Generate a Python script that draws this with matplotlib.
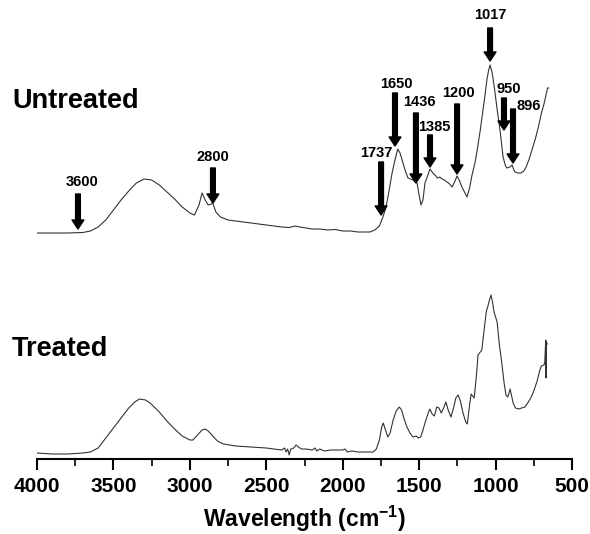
import matplotlib
matplotlib.use("Agg")
import matplotlib.pyplot as plt
from matplotlib.ticker import MultipleLocator

plt.rcParams['font.family'] = ['Liberation Sans', 'DejaVu Sans']
plt.rcParams['mathtext.fontset'] = 'custom'
plt.rcParams['mathtext.bf'] = 'Liberation Sans:bold'

# wavenumber (cm-1) / relative absorbance
untreated_wn = [4000, 3900, 3800, 3700, 3650, 3600, 3550, 3500, 3450, 3400, 3350, 3300,
                3250, 3200, 3150, 3100, 3050, 3000, 2970, 2940, 2920, 2900, 2880, 2860,
                2850, 2830, 2800, 2750, 2700, 2600, 2500, 2400, 2350, 2310, 2280, 2200,
                2150, 2100, 2050, 2000, 1950, 1900, 1850, 1822, 1790, 1760, 1737, 1720,
                1704, 1677, 1658, 1640, 1625, 1606, 1590, 1573, 1540, 1514, 1500, 1488,
                1475, 1462, 1445, 1429, 1410, 1396, 1380, 1365, 1350, 1335, 1318, 1300,
                1285, 1268, 1252, 1235, 1220, 1200, 1187, 1170, 1154, 1135, 1120, 1100,
                1085, 1070, 1055, 1045, 1036, 1025, 1017, 1005, 991, 971, 951, 935, 925,
                906, 892, 880, 873, 853, 835, 815, 800, 780, 760, 740, 720, 700, 685,
                670, 660, 652]
untreated_ab = [0.00, 0.00, 0.00, 0.005, 0.02, 0.06, 0.13, 0.23, 0.33, 0.42, 0.50, 0.54,
                0.53, 0.48, 0.41, 0.34, 0.26, 0.20, 0.18, 0.28, 0.40, 0.33, 0.28, 0.29,
                0.30, 0.21, 0.16, 0.13, 0.12, 0.10, 0.08, 0.06, 0.055, 0.07, 0.06, 0.04,
                0.04, 0.03, 0.035, 0.02, 0.02, 0.01, 0.01, 0.01, 0.03, 0.07, 0.16, 0.24,
                0.36, 0.60, 0.73, 0.84, 0.80, 0.70, 0.62, 0.55, 0.53, 0.50, 0.38, 0.28,
                0.33, 0.50, 0.57, 0.64, 0.60, 0.58, 0.55, 0.56, 0.54, 0.53, 0.51, 0.49,
                0.46, 0.51, 0.57, 0.52, 0.46, 0.40, 0.36, 0.45, 0.58, 0.70, 0.83, 1.03,
                1.20, 1.37, 1.55, 1.63, 1.68, 1.62, 1.55, 1.42, 1.25, 1.03, 0.76, 0.67,
                0.65, 0.66, 0.68, 0.63, 0.61, 0.60, 0.60, 0.62, 0.66, 0.74, 0.84, 0.94,
                1.06, 1.20, 1.28, 1.38, 1.45, 1.45]

treated_wn = [4000, 3900, 3800, 3700, 3650, 3600, 3550, 3500, 3450, 3400, 3360, 3330,
              3290, 3260, 3200, 3150, 3100, 3050, 3000, 2980, 2950, 2920, 2900, 2880,
              2850, 2820, 2780, 2700, 2600, 2500, 2400, 2380, 2370, 2360, 2350, 2340,
              2320, 2305, 2290, 2270, 2240, 2200, 2180, 2170, 2150, 2120, 2080, 2040,
              2000, 1985, 1970, 1940, 1900, 1850, 1800, 1780, 1760, 1745, 1735, 1720,
              1705, 1690, 1670, 1650, 1630, 1615, 1600, 1580, 1560, 1540, 1520, 1505,
              1490, 1475, 1460, 1445, 1430, 1415, 1400, 1385, 1370, 1355, 1340, 1325,
              1310, 1292, 1275, 1260, 1245, 1230, 1213, 1195, 1185, 1170, 1160, 1150,
              1140, 1125, 1115, 1100, 1090, 1075, 1060, 1050, 1040, 1030, 1020, 1010,
              1000, 990, 975, 960, 945, 932, 920, 910, 905, 895, 885, 870, 850, 830,
              808, 790, 770, 755, 730, 710, 700, 683, 678, 672, 670, 667, 662]
treated_ab = [0.00, -0.01, -0.01, 0.00, 0.01, 0.05, 0.15, 0.25, 0.35, 0.45, 0.51, 0.54,
              0.53, 0.50, 0.41, 0.32, 0.24, 0.17, 0.13, 0.13, 0.18, 0.23, 0.24, 0.22,
              0.17, 0.12, 0.09, 0.07, 0.06, 0.05, 0.03, 0.05, 0.01, 0.04, -0.02, 0.04,
              0.05, 0.08, 0.06, 0.04, 0.04, 0.03, 0.05, 0.02, 0.04, 0.02, 0.03, 0.03,
              0.03, 0.04, 0.01, 0.02, 0.01, 0.01, 0.01, 0.04, 0.13, 0.26, 0.30, 0.23,
              0.16, 0.20, 0.33, 0.42, 0.46, 0.43, 0.35, 0.26, 0.20, 0.16, 0.17, 0.15,
              0.16, 0.23, 0.31, 0.38, 0.44, 0.39, 0.37, 0.46, 0.45, 0.40, 0.45, 0.51,
              0.43, 0.36, 0.45, 0.55, 0.58, 0.52, 0.40, 0.31, 0.29, 0.48, 0.59, 0.57,
              0.55, 0.78, 0.98, 1.01, 1.03, 1.23, 1.42, 1.47, 1.53, 1.58, 1.51, 1.41,
              1.36, 1.31, 1.08, 0.91, 0.71, 0.58, 0.56, 0.61, 0.64, 0.57, 0.50, 0.45,
              0.44, 0.45, 0.46, 0.50, 0.55, 0.60, 0.71, 0.83, 0.87, 0.88, 0.91, 1.13,
              0.75, 1.11, 1.09]

untreated_offset = 2.20

# peak labels and arrow placement (x in cm-1, y in plot units)
peak_labels = ['3600', '2800', '1737', '1650', '1436', '1385', '1200', '1017', '950', '896']
arrow_x = [3732, 2849, 1749, 1658, 1521, 1429, 1252, 1036, 945, 886]
arrow_tip = [2.24, 2.50, 2.38, 3.07, 2.70, 2.86, 2.79, 3.92, 3.23, 2.90]
arrow_top = [2.59, 2.85, 2.91, 3.60, 3.40, 3.18, 3.49, 4.25, 3.55, 3.44]
label_x = [3706, 2849, 1782, 1651, 1501, 1403, 1246, 1036, 912, 781]
label_y = [2.71, 2.96, 3.00, 3.69, 3.51, 3.26, 3.60, 4.38, 3.64, 3.47]

fig = plt.figure(figsize=(5.9, 5.34), dpi=100)
ax = fig.add_axes([37 / 590, 75 / 534, 535 / 590, 459 / 534])

ax.plot(treated_wn, treated_ab, color='#333333', lw=0.8)
ax.plot(untreated_wn, [v + untreated_offset for v in untreated_ab], color='#333333', lw=0.8)

for lab, x, tip, top, lx, ly in zip(peak_labels, arrow_x, arrow_tip, arrow_top, label_x, label_y):
    ax.annotate('', xy=(x, tip), xytext=(x, top),
                arrowprops=dict(facecolor='black', edgecolor='black', width=3.4,
                                headwidth=8.5, headlength=6.5, shrink=0))
    ax.text(lx, ly, lab, ha='center', va='center', fontsize=10.5, fontweight='bold')

fig.text(12 / 590, 1 - 101 / 534, 'Untreated', ha='left', va='center',
         fontsize=19.5, fontweight='bold')
fig.text(12 / 590, 1 - 349 / 534, 'Treated', ha='left', va='center',
         fontsize=19.5, fontweight='bold')

ax.set_xlim(4000, 500)
ax.set_ylim(-0.06, 4.53)
ax.xaxis.set_major_locator(MultipleLocator(500))
ax.xaxis.set_minor_locator(MultipleLocator(250))
ax.tick_params(axis='x', which='major', direction='out', length=8, width=1.5,
               labelsize=15, pad=5)
ax.tick_params(axis='x', which='minor', direction='out', length=5, width=1.2)
for t in ax.get_xticklabels():
    t.set_fontweight('bold')
ax.set_yticks([])
for side in ['left', 'top', 'right']:
    ax.spines[side].set_visible(False)
ax.spines['bottom'].set_linewidth(1.5)
ax.set_xlabel('Wavelength (cm$^{\\mathbf{-1}}$)', fontsize=16.5, fontweight='bold')
ax.xaxis.set_label_coords(0.5, -0.097)
ax.patch.set_alpha(0)

fig.savefig('out.png', dpi=100)
